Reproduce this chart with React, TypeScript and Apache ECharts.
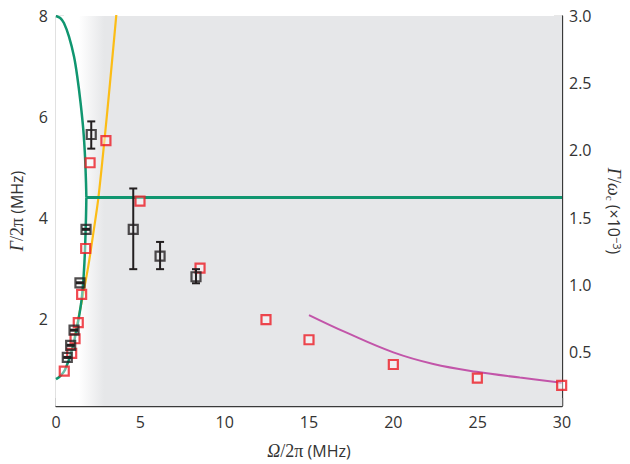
import React, { useEffect, useRef } from "react";
import * as echarts from "echarts";

const xTicks = [0, 5, 10, 15, 20, 25, 30];

// Green theory curve, upper branch (Ω/2π, Γ/2π)
const greenUpperX = [0, 0.25, 0.47, 0.77, 1.07, 1.26, 1.46, 1.62, 1.72, 1.78, 1.8];
const greenUpperY = [8.0, 7.96, 7.86, 7.59, 7.19, 6.8, 6.27, 5.74, 5.22, 4.69, 4.4];
// Green theory curve, lower branch
const greenLowerX = [0, 0.25, 0.53, 0.93, 1.26, 1.52, 1.65, 1.72, 1.78, 1.8];
const greenLowerY = [0.8, 0.86, 0.98, 1.36, 1.85, 2.38, 2.9, 3.37, 4.03, 4.4];
// Green flat part above the exceptional point
const greenFlatX = [1.8, 30];
const greenFlatY = [4.4, 4.4];
// Yellow curve
const yellowX = [1.1, 1.25, 1.55, 1.92, 2.22, 2.5, 2.78, 3.05, 3.33, 3.57, 3.62];
const yellowY = [1.62, 1.87, 2.38, 3.05, 3.71, 4.36, 5.23, 6.14, 7.13, 8.0, 8.2];
// Magenta curve
const magentaX = [15.0, 17.23, 20.0, 22.37, 24.94, 27.5, 29.98];
const magentaY = [2.07, 1.72, 1.33, 1.1, 0.944, 0.83, 0.73];

// Red open squares
const redX = [0.49, 0.93, 1.13, 1.32, 1.52, 1.76, 2.02, 2.96, 4.98, 8.54, 12.45, 15.0, 20.0, 24.98, 29.98];
const redY = [0.96, 1.31, 1.6, 1.92, 2.48, 3.39, 5.09, 5.53, 4.33, 3.0, 1.98, 1.58, 1.09, 0.82, 0.674];

// Black squares with error bars
const blackX = [0.67, 0.87, 1.07, 1.42, 1.78, 2.09, 4.58, 6.17, 8.3];
const blackY = [1.23, 1.47, 1.77, 2.71, 3.77, 5.65, 3.77, 3.24, 2.83];
const blackLo = [1.22, 1.46, 1.76, 2.7, 3.76, 5.37, 2.98, 2.98, 2.7];
const blackHi = [1.24, 1.48, 1.78, 2.72, 3.78, 5.91, 4.58, 3.52, 2.98];

const RIGHT_MIN = 0.1;
const RIGHT_MAX = 3.0;
const LEFT_MAX = 8;
const LEFT_MIN = (RIGHT_MIN * LEFT_MAX) / RIGHT_MAX;

const zip = (a: number[], b: number[]) => a.map((v, i) => [v, b[i]]);

const SANS = "'Open Sans', 'Noto Sans', sans-serif";
const SERIF = "'Liberation Serif', 'DejaVu Serif', serif";
const AXIS_COLOR = "#3a3a3a";
const LABEL_COLOR = "#333";

export default function App() {
  const ref = useRef<HTMLDivElement>(null);
  useEffect(() => {
    if (!ref.current) return;
    const chart = echarts.init(ref.current, undefined, { renderer: "svg" });
    const nameRich = {
      gi: { fontFamily: SERIF, fontStyle: "italic", fontSize: 18, color: LABEL_COLOR },
      sr: { fontFamily: SERIF, fontSize: 18, color: LABEL_COLOR },
      ss: { fontFamily: SANS, fontSize: 16, color: LABEL_COLOR },
      sub: { fontFamily: SERIF, fontSize: 11, color: LABEL_COLOR, verticalAlign: "bottom", padding: [8, 0, 0, 0] },
      sup: { fontFamily: SANS, fontSize: 11, color: LABEL_COLOR, padding: [0, 0, 8, 0] },
    };
    const axisCommon = {
      axisLine: { show: true, lineStyle: { color: AXIS_COLOR, width: 1.3 } },
      axisTick: { show: true, inside: true, length: 8, lineStyle: { color: "#666", width: 1.3 } },
      splitLine: { show: false },
    };
    const labelCommon = { color: LABEL_COLOR, fontSize: 16, fontFamily: SANS };

    const gradient = new echarts.graphic.LinearGradient(0, 0, 1, 0, [
      { offset: 0, color: "#ffffff" },
      { offset: 0.045, color: "#ffffff" },
      { offset: 0.095, color: "#e6e7e9" },
      { offset: 1, color: "#e6e7e9" },
    ]);

    chart.setOption({
      animation: false,
      backgroundColor: "#ffffff",
      grid: { left: 56, right: 68, top: 16, bottom: 58, containLabel: false, outerBoundsMode: "none" },
      xAxis: {
        type: "value",
        min: 0,
        max: 30,
        interval: 5,
        ...axisCommon,
        axisLabel: { ...labelCommon, margin: 8 },
        name: "{gi|Ω}{sr|/2π}{ss| (MHz)}",
        nameLocation: "middle",
        nameGap: 36,
        nameTextStyle: { rich: nameRich },
      },
      yAxis: [
        {
          type: "value",
          position: "left",
          min: LEFT_MIN,
          max: LEFT_MAX,
          splitNumber: 5,
          ...axisCommon,
          axisLabel: { ...labelCommon, margin: 8, showMinLabel: false },
          name: "{gi|Γ}{sr|/2π}{ss| (MHz)}",
          nameLocation: "middle",
          nameGap: 30,
          nameTextStyle: { rich: nameRich },
        },
        {
          type: "value",
          position: "right",
          min: RIGHT_MIN,
          max: RIGHT_MAX,
          splitNumber: 5,
          ...axisCommon,
          axisLabel: {
            ...labelCommon,
            margin: 7,
            showMinLabel: false,
            formatter: (v: number) => v.toFixed(1),
          },
          name: "{gi|Γ}{sr|/}{gi|ω}{sub|c}{ss| (×10}{sup|−3}{ss|)}",
          nameLocation: "middle",
          nameRotate: -90,
          nameGap: 42,
          nameTextStyle: { rich: nameRich },
        },
      ],
      series: [
        {
          type: "line",
          data: [],
          z: 0,
          silent: true,
          markArea: {
            silent: true,
            itemStyle: { color: gradient },
            data: [[{ xAxis: 0, yAxis: LEFT_MIN }, { xAxis: 30, yAxis: LEFT_MAX }]],
          },
        },
        {
          type: "line",
          data: zip(yellowX, yellowY),
          showSymbol: false,
          smooth: 0.3,
          lineStyle: { color: "#fcbd16", width: 2.2 },
          z: 2,
          clip: true,
        },
        {
          type: "line",
          data: zip(greenUpperX, greenUpperY),
          showSymbol: false,
          smooth: 0.3,
          lineStyle: { color: "#109670", width: 2.5 },
          z: 3,
        },
        {
          type: "line",
          data: zip(greenLowerX, greenLowerY),
          showSymbol: false,
          smooth: 0.3,
          lineStyle: { color: "#109670", width: 2.5 },
          z: 3,
        },
        {
          type: "line",
          data: zip(greenFlatX, greenFlatY),
          showSymbol: false,
          lineStyle: { color: "#109670", width: 3 },
          z: 3,
        },
        {
          type: "line",
          data: zip(magentaX, magentaY),
          showSymbol: false,
          smooth: 0.4,
          lineStyle: { color: "#c255a9", width: 2 },
          z: 3,
        },
        {
          type: "scatter",
          data: zip(redX, redY),
          symbol: "rect",
          symbolSize: 9,
          clip: false,
          itemStyle: { color: "rgba(255,255,255,0.5)", borderColor: "#ec1c24", borderWidth: 2.2 },
          z: 4,
        },
        {
          type: "scatter",
          data: zip(blackX, blackY),
          symbol: "rect",
          symbolSize: 9,
          clip: false,
          itemStyle: { color: "rgba(0,0,0,0)", borderColor: "#231f20", borderWidth: 2.2 },
          z: 5,
        },
        {
          type: "custom",
          data: blackX.map((x, i) => [x, blackY[i], blackLo[i], blackHi[i]]),
          encode: { x: 0, y: 1 },
          z: 5,
          renderItem: (params: any, api: any) => {
            const x = api.value(0);
            const lo = api.value(2);
            const hi = api.value(3);
            const pHi = api.coord([x, hi]);
            const pLo = api.coord([x, lo]);
            const w = 4;
            const style = { stroke: "#231f20", lineWidth: 2 };
            return {
              type: "group",
              children: [
                { type: "line", shape: { x1: pHi[0], y1: pHi[1], x2: pLo[0], y2: pLo[1] }, style },
                { type: "line", shape: { x1: pHi[0] - w, y1: pHi[1], x2: pHi[0] + w, y2: pHi[1] }, style },
                { type: "line", shape: { x1: pLo[0] - w, y1: pLo[1], x2: pLo[0] + w, y2: pLo[1] }, style },
              ],
            };
          },
        },
      ],
    });
    return () => chart.dispose();
  }, []);
  return (
    <div
      ref={ref}
      style={{ position: "fixed", left: 0, top: 0, width: 630, height: 464 }}
    />
  );
}
